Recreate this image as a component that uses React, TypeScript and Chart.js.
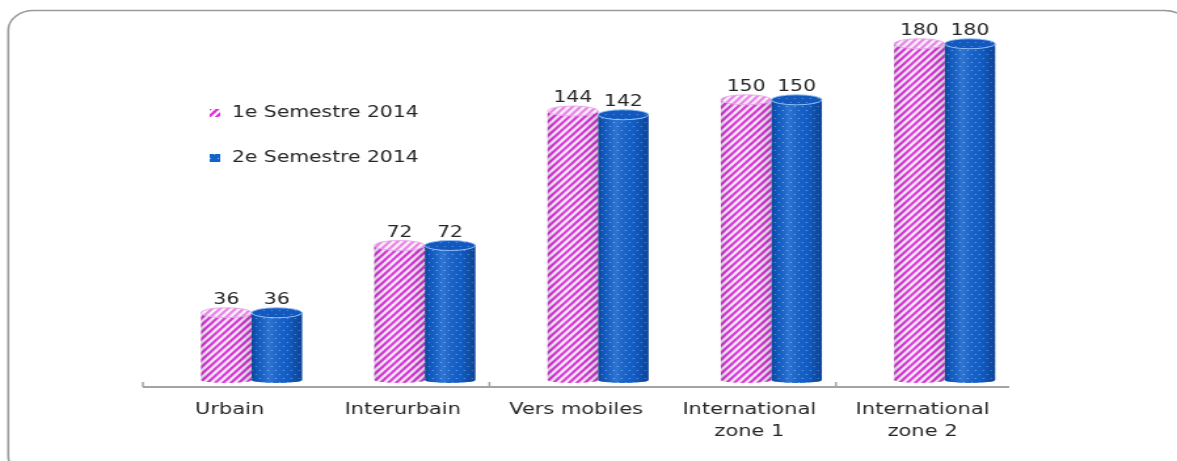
import React, { useEffect, useRef } from 'react';
import { Chart, registerables } from 'chart.js';

Chart.register(...registerables);

// ---- data ----
const categories: (string | string[])[] = [
  'Urbain',
  'Interurbain',
  'Vers mobiles',
  ['International', 'zone 1'],
  ['International', 'zone 2'],
];
const seriesNames = ['1e Semestre 2014', '2e Semestre 2014'];
const semestre1 = [36, 72, 144, 150, 180];
const semestre2 = [36, 72, 142, 150, 180];
const yMin = 0;
const yMax = 200;

// ---- layout / style ----
const OUT_W = 1177;
const H = 461;
const K = 1.31; // horizontal stretch of the whole picture
const W = Math.round(OUT_W / K);
const FONT = '"DejaVu Sans", Verdana, sans-serif';
const TEXT = '#262626';
const BAR_SHIFT = 16.8; // rendering offset of the 3D bars
const RY = 5;

function stripePattern(ctx: CanvasRenderingContext2D, w: number, h: number, fg: number[], bg: number[]) {
  const c = document.createElement('canvas');
  c.width = w;
  c.height = h;
  const g = c.getContext('2d')!;
  const img = g.createImageData(w, h);
  const S = 4;
  for (let y = 0; y < h; y++) {
    for (let x = 0; x < w; x++) {
      let cov = 0;
      for (let sy = 0; sy < S; sy++) {
        for (let sx = 0; sx < S; sx++) {
          const t = (((x + (sx + 0.5) / S) / w + (y + (sy + 0.5) / S) / h) % 1 + 1) % 1;
          if (t < 0.5) cov++;
        }
      }
      const a = cov / (S * S);
      const i = (y * w + x) * 4;
      for (let k = 0; k < 3; k++) img.data[i + k] = Math.round(fg[k] * a + bg[k] * (1 - a));
      img.data[i + 3] = 255;
    }
  }
  g.putImageData(img, 0, 0);
  return ctx.createPattern(c, 'repeat')!;
}

function dotPattern(ctx: CanvasRenderingContext2D, w: number, h: number, fg: string, bg: string) {
  const c = document.createElement('canvas');
  c.width = w;
  c.height = h;
  const g = c.getContext('2d')!;
  g.fillStyle = bg;
  g.fillRect(0, 0, w, h);
  g.fillStyle = fg;
  g.fillRect(1, 2, 1, 1);
  g.fillRect(4, 6, 1, 1);
  return ctx.createPattern(c, 'repeat')!;
}

export default function App() {
  const ref = useRef<HTMLCanvasElement>(null);

  useEffect(() => {
    const canvas = ref.current!;
    const ctx0 = canvas.getContext('2d')!;
    const pink = stripePattern(ctx0, 6, 7, [216, 48, 216], [253, 244, 253]);
    const pinkTop = stripePattern(ctx0, 6, 7, [232, 130, 232], [253, 246, 253]);
    const blue = dotPattern(ctx0, 6, 8, 'rgb(130,180,245)', 'rgb(18,98,206)');
    const blueTop = dotPattern(ctx0, 6, 8, 'rgb(100,150,225)', 'rgb(18,88,190)');
    const fills = [pink, blue];
    const tops = [pinkTop, blueTop];
    const rims = ['rgba(230,170,230,0.9)', 'rgba(150,195,250,0.95)'];
    const shadeAlpha = [0.5, 1];

    const framePlugin = {
      id: 'frame',
      beforeDraw(chart: any) {
        const c = chart.ctx;
        c.save();
        c.fillStyle = '#fff';
        c.fillRect(0, 0, W, H);
        c.strokeStyle = '#9a9a9a';
        c.lineWidth = 1.6;
        c.beginPath();
        (c as any).roundRect(6.3, 10.5, 908 - 6.3, 476 - 10.5, 19.5);
        c.stroke();
        c.restore();
      },
    };

    const cylinderPlugin = {
      id: 'cylinders',
      beforeDatasetsDraw(chart: any) {
        chart.ctx.save();
        chart.ctx.translate(BAR_SHIFT, 0);
      },
      afterDatasetsDraw(chart: any) {
        const c = chart.ctx;
        chart.data.datasets.forEach((ds: any, di: number) => {
          const meta = chart.getDatasetMeta(di);
          meta.data.forEach((bar: any, i: number) => {
            const { x, y, base, width } = bar.getProps(['x', 'y', 'base', 'width'], true);
            const left = x - width / 2;
            const right = x + width / 2;
            const rx = width / 2;
            // bottom rounding
            c.save();
            c.beginPath();
            c.ellipse(x, base, rx, 3, 0, 0, Math.PI);
            c.fillStyle = fills[di];
            c.fill();
            c.restore();
            // cylindrical shading
            const sa = shadeAlpha[di];
            const grad = c.createLinearGradient(left, 0, right, 0);
            grad.addColorStop(0, `rgba(0,0,30,${0.3 * sa})`);
            grad.addColorStop(0.12, `rgba(0,0,30,${0.08 * sa})`);
            grad.addColorStop(0.35, `rgba(255,255,255,${0.12 * sa})`);
            grad.addColorStop(0.7, `rgba(0,0,30,${0.04 * sa})`);
            grad.addColorStop(1, `rgba(0,0,30,${0.32 * sa})`);
            c.save();
            c.beginPath();
            c.moveTo(left, y);
            c.lineTo(right, y);
            c.lineTo(right, base);
            c.ellipse(x, base, rx, 3, 0, 0, Math.PI);
            c.closePath();
            c.fillStyle = grad;
            c.fill();
            c.restore();
            // top ellipse
            c.save();
            c.beginPath();
            c.ellipse(x, y, rx, RY, 0, 0, Math.PI * 2);
            c.fillStyle = tops[di];
            c.fill();
            c.strokeStyle = rims[di];
            c.lineWidth = 1;
            c.stroke();
            c.restore();
            // value label
            c.save();
            c.fillStyle = TEXT;
            c.font = `15.5px ${FONT}`;
            c.textAlign = 'center';
            c.textBaseline = 'middle';
            c.fillText(String(ds.data[i]), x, y - 13);
            c.restore();
          });
        });
        c.restore();
      },
    };

    const decorPlugin = {
      id: 'decor',
      afterDraw(chart: any) {
        const c = chart.ctx;
        const xs = chart.scales.x;
        const n = chart.data.labels.length;
        const yAxis = chart.chartArea.bottom + 7;
        c.save();
        c.strokeStyle = '#a3a3a3';
        c.lineWidth = 2;
        c.beginPath();
        c.moveTo(xs.left, yAxis);
        c.lineTo(xs.right, yAxis);
        c.stroke();
        c.lineWidth = 1.5;
        for (let i = 0; i <= n; i += 2) {
          const px = xs.left + (i * (xs.right - xs.left)) / n;
          c.beginPath();
          c.moveTo(px, yAxis - 5);
          c.lineTo(px, yAxis);
          c.stroke();
        }
        // legend
        const legendY = [113, 158];
        chart.data.datasets.forEach((ds: any, di: number) => {
          const yc = legendY[di];
          c.fillStyle = fills[di];
          c.fillRect(160, yc - 4, 8, 8);
          c.fillStyle = TEXT;
          c.font = `15.5px ${FONT}`;
          c.textAlign = 'left';
          c.textBaseline = 'middle';
          c.fillText(ds.label, 177, yc);
        });
        c.restore();
      },
    };

    const chart = new Chart(canvas, {
      type: 'bar',
      data: {
        labels: categories as any,
        datasets: [
          { label: seriesNames[0], data: semestre1, backgroundColor: pink as any, borderWidth: 0 },
          { label: seriesNames[1], data: semestre2, backgroundColor: blue as any, borderWidth: 0 },
        ],
      },
      options: {
        responsive: false,
        animation: false,
        devicePixelRatio: 1,
        layout: { padding: { top: 6.4, left: 109, right: W - 770, bottom: 0 } },
        plugins: { legend: { display: false }, tooltip: { enabled: false } },
        datasets: { bar: { categoryPercentage: 0.583, barPercentage: 1 } },
        scales: {
          x: {
            grid: { display: false, drawTicks: false },
            border: { display: false },
            ticks: {
              padding: 19.2,
              color: TEXT,
              font: { family: FONT, size: 16, lineHeight: 1.35 },
              maxRotation: 0,
              autoSkip: false,
            },
            afterFit: (s: any) => {
              s.height = 81;
            },
          },
          y: { display: false, min: yMin, max: yMax },
        },
      } as any,
      plugins: [framePlugin, cylinderPlugin, decorPlugin],
    });
    return () => chart.destroy();
  }, []);

  return (
    <div
      style={{
        position: 'absolute',
        left: 0,
        top: 0,
        width: OUT_W,
        height: H,
        overflow: 'hidden',
        background: '#fff',
      }}
    >
      <div style={{ width: W, height: H, transform: `scaleX(${OUT_W / W})`, transformOrigin: '0 0' }}>
        <canvas ref={ref} width={W} height={H} style={{ width: W, height: H, display: 'block' }} />
      </div>
    </div>
  );
}
